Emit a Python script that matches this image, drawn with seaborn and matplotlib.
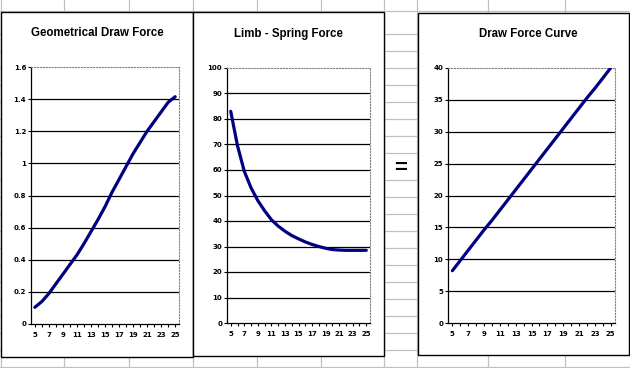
# Three Excel-style charts side by side on a spreadsheet grid
import matplotlib
matplotlib.use("Agg")
import matplotlib.pyplot as plt
from matplotlib.patches import Rectangle
import seaborn as sns

# [Data]====================================================================================================
draw_length = list(range(5, 26))

geometric_force = [0.104, 0.14, 0.19, 0.25, 0.31, 0.37, 0.43, 0.50, 0.575, 0.65, 0.73,
                   0.82, 0.90, 0.98, 1.06, 1.13, 1.20, 1.26, 1.32, 1.38, 1.415]
spring_force = [83.0, 69.5, 59.5, 53.0, 48.0, 44.0, 40.5, 38.0, 36.0, 34.3, 33.0,
                31.8, 30.8, 30.0, 29.3, 28.8, 28.6, 28.5, 28.5, 28.5, 28.5]
draw_force = [8.2, 9.8, 11.4, 13.0, 14.6, 16.1, 17.7, 19.3, 20.9, 22.5, 24.1,
              25.7, 27.3, 28.9, 30.5, 32.1, 33.7, 35.3, 36.8, 38.4, 40.0]

titles = ["Geometrical Draw Force", "Limb - Spring Force", "Draw Force Curve"]
y_ticks = [[0, 0.2, 0.4, 0.6, 0.8, 1, 1.2, 1.4, 1.6],
           [0, 10, 20, 30, 40, 50, 60, 70, 80, 90, 100],
           [0, 5, 10, 15, 20, 25, 30, 35, 40]]
x_labels = [str(v) if v % 2 else "" for v in draw_length]

# [Layout, in pixels from top-left]=====================================================================
W, H = 630, 368
# box (x0, y0, x1, y1), plot area (x0, y0, x1, y1), title centre (x, y)
panels = [
    ((1, 12, 193, 357), (31, 67, 179, 324), (97, 33)),
    ((193, 12, 384, 356), (227, 68, 370, 323), (288, 34)),
    ((418, 13, 629, 355), (448, 68, 615, 323), (528, 34)),
]
sheet_cols = [0.5, 64, 129, 193, 257, 321, 384, 417, 488, 565]
sheet_rows = [11, 34, 51, 68, 85, 102, 119, 136, 153, 180, 197, 214, 231, 248,
              265, 282, 299, 316, 333, 350, 366.5]

sns.set_style("white")
plt.rcParams['font.family'] = ['Liberation Sans', 'DejaVu Sans']
plt.rcParams['text.color'] = 'black'
plt.rcParams['xtick.color'] = 'black'
plt.rcParams['ytick.color'] = 'black'

fig = plt.figure(figsize=(W / 100, H / 100), dpi=100)
fig.patch.set_facecolor("white")

# spreadsheet background
bg = fig.add_axes([0, 0, 1, 1])
bg.set_xlim(0, W)
bg.set_ylim(H, 0)
bg.axis("off")
for c in sheet_cols:
    bg.axvline(c, color="#c0c0c0", lw=0.9, zorder=1)
for r in sheet_rows:
    bg.axhline(r, color="#c0c0c0", lw=0.9, zorder=1)

for (bx0, by0, bx1, by1), _, (tx, ty) in panels:
    bg.add_patch(Rectangle((bx0, by0), bx1 - bx0, by1 - by0, facecolor="white",
                           edgecolor="black", lw=1.0, zorder=2))
for (_, _, (tx, ty)), title in zip(panels, titles):
    bg.text(tx, ty, title, ha="center", va="center", fontsize=8.3,
            fontweight="bold", color="black", zorder=3)

bg.add_patch(Rectangle((390, 158), 22, 20, facecolor="white", edgecolor="none", zorder=2))
bg.text(401, 168.5, "=", ha="center", va="center", fontsize=16, fontweight="bold",
        color="black", zorder=3)

# [Charts]====================================================================================================
series = [geometric_force, spring_force, draw_force]
for (_, (px0, py0, px1, py1), _), values, ticks in zip(panels, series, y_ticks):
    ax = fig.add_axes([px0 / W, 1 - py1 / H, (px1 - px0) / W, (py1 - py0) / H])
    ax.set_facecolor("white")
    sns.lineplot(x=draw_length, y=values, ax=ax, color="#000080", lw=2.3, zorder=3)
    ax.set_xlim(4.45, 25.55)
    ax.set_ylim(ticks[0], ticks[-1])
    for t in ticks[1:-1]:
        ax.axhline(t, color="black", lw=0.9, zorder=1)

    ax.set_xticks(draw_length)
    ax.set_xticklabels(x_labels, fontsize=5, fontweight="bold", family="DejaVu Sans",
                       color="black")
    ax.set_yticks(ticks)
    ax.set_yticklabels([f"{t:g}" for t in ticks], fontsize=5, fontweight="bold",
                       family="DejaVu Sans", color="black")
    ax.tick_params(axis="x", direction="out", length=2.5, width=0.8, pad=3.5,
                   bottom=True, colors="black")
    ax.tick_params(axis="y", direction="out", length=2, width=0.8, pad=1.5,
                   left=True, colors="black")

    for side in ["left", "bottom"]:
        ax.spines[side].set_color("black")
        ax.spines[side].set_linewidth(0.9)
    for side in ["top", "right"]:
        ax.spines[side].set_color("#808080")
        ax.spines[side].set_linestyle(":")
        ax.spines[side].set_linewidth(0.8)
    ax.set_xlabel("")
    ax.set_ylabel("")

fig.savefig("out.png", dpi=100)
